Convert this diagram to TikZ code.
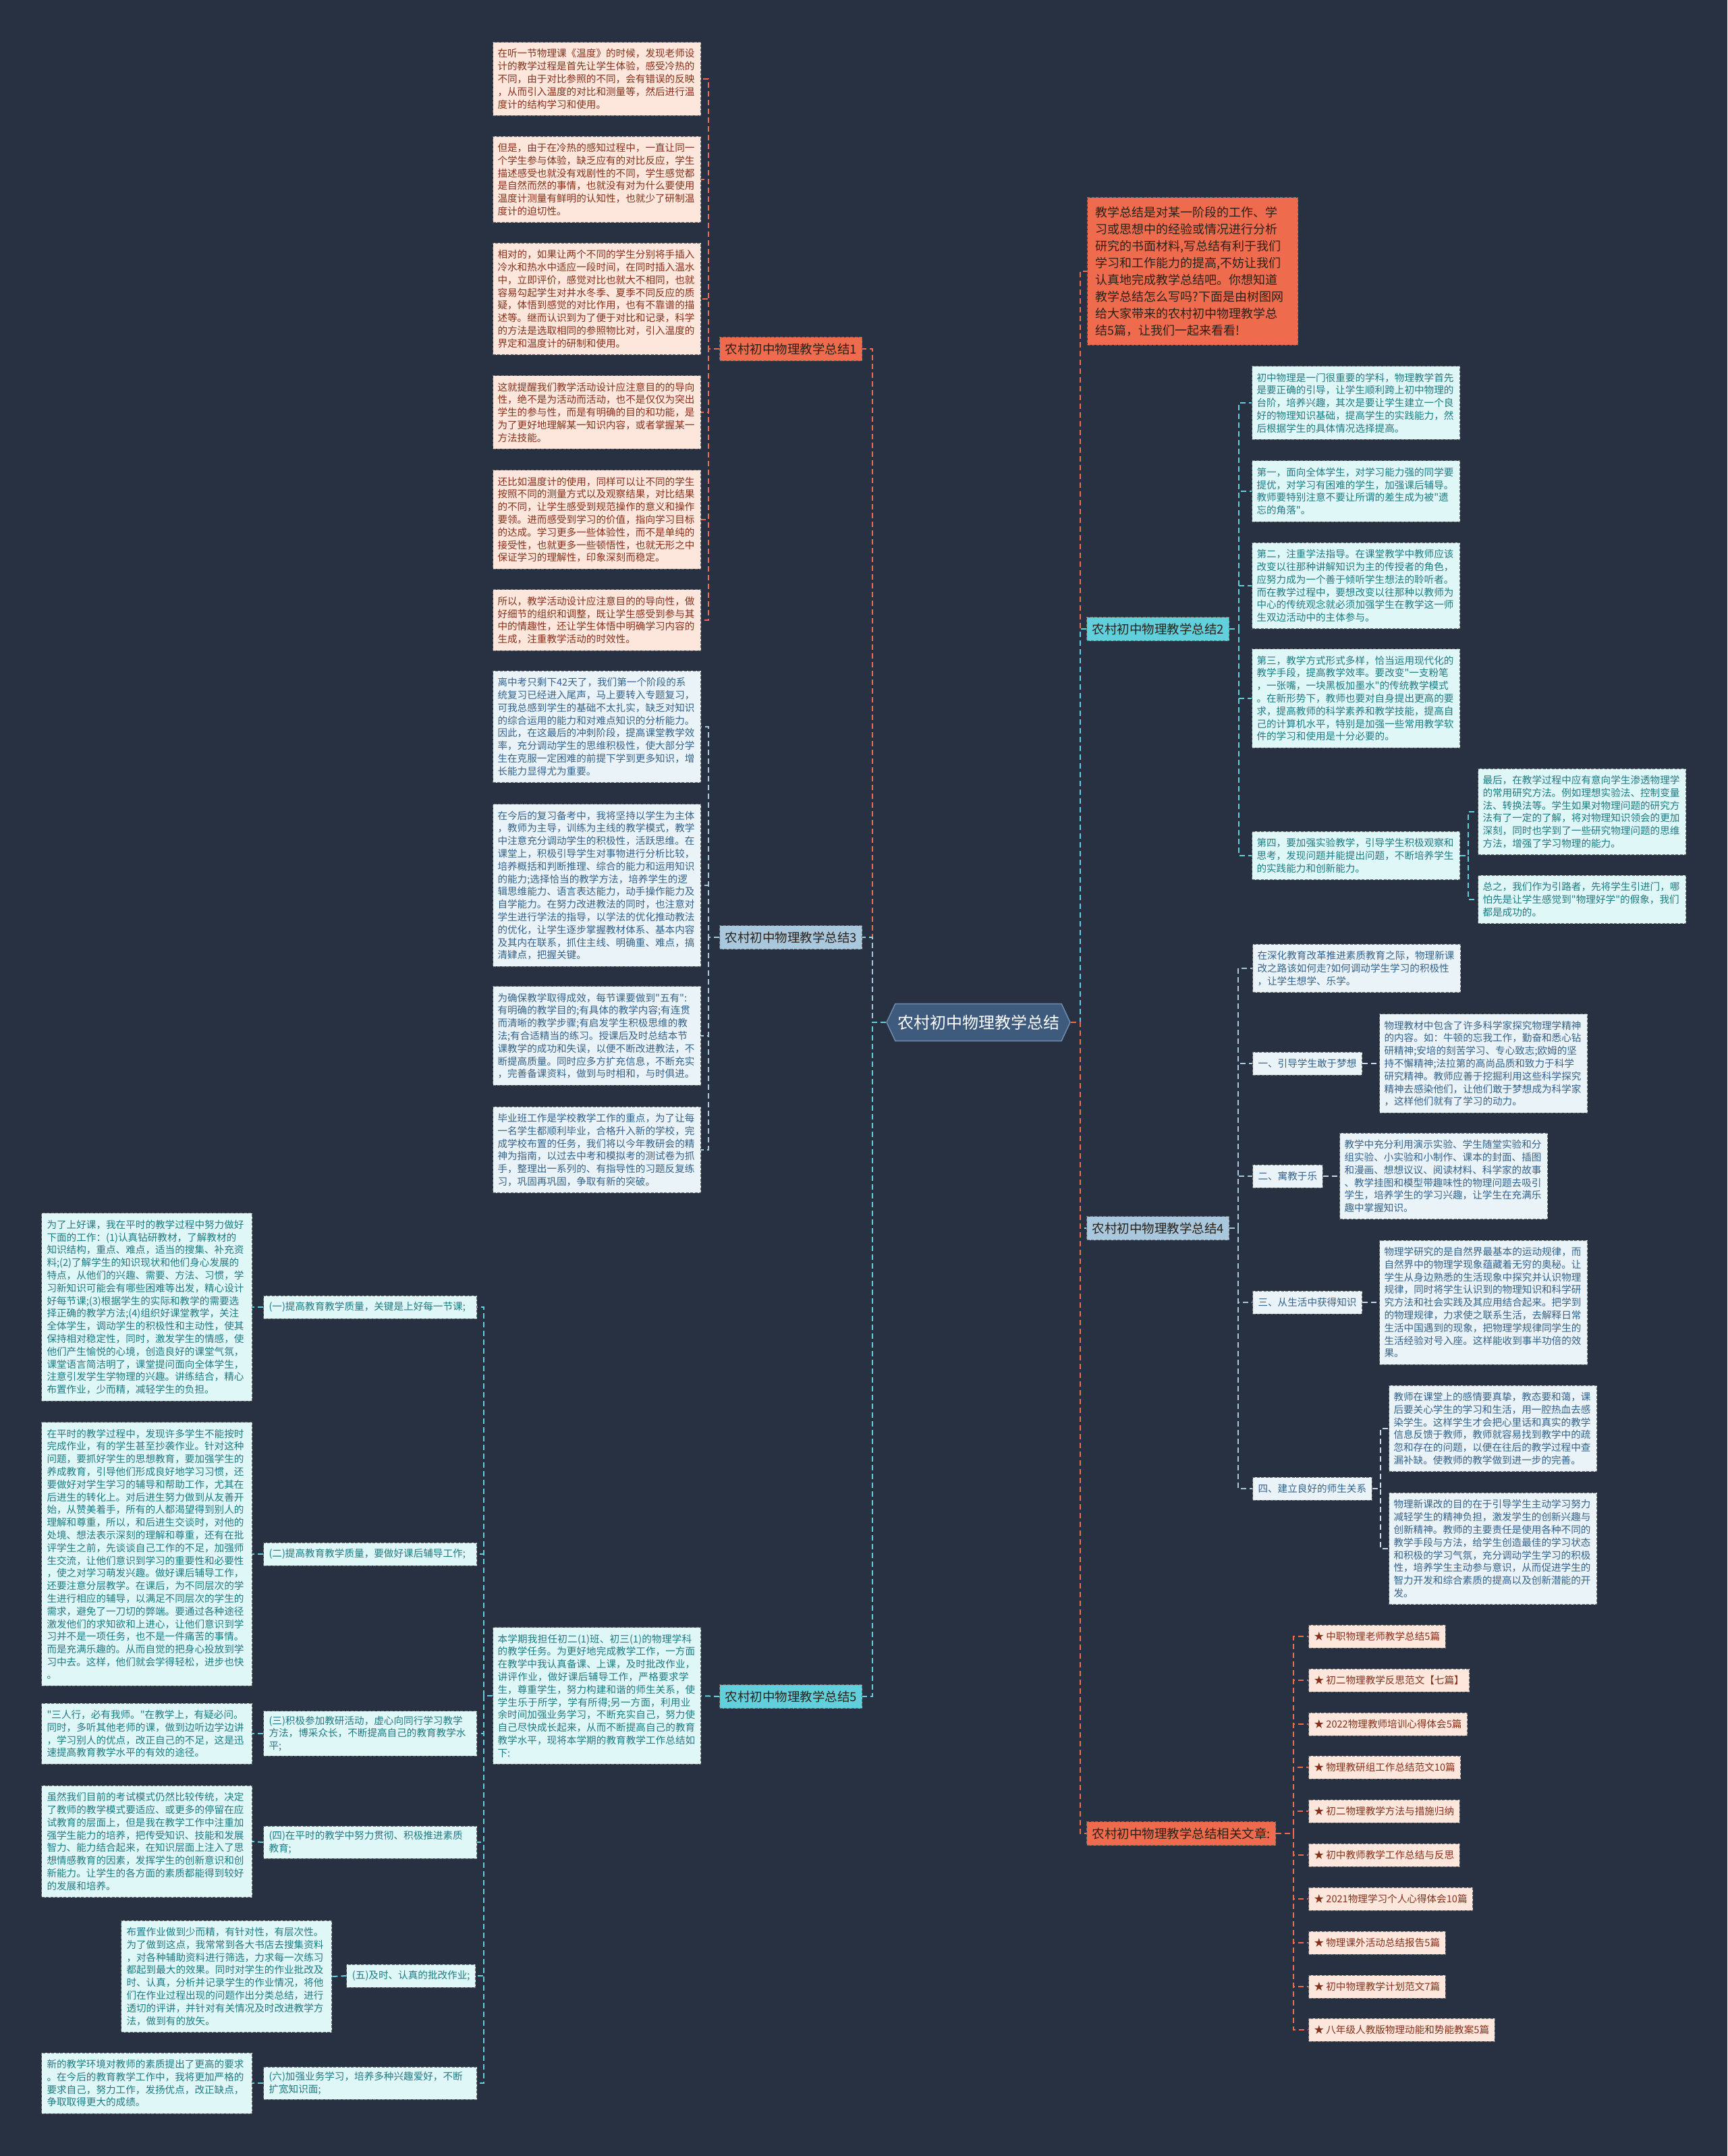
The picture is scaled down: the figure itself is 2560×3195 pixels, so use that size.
\documentclass[tikz,border=0pt]{standalone}
\usepackage{fontspec}
\setmainfont{Noto Sans CJK SC}[Ligatures=TeXOff]
\usepackage{xcolor}
\usepackage{tikz}
\usetikzlibrary{positioning, shapes.symbols}

\XeTeXlinebreaklocale "zh"
\XeTeXlinebreakskip = 0pt plus 1pt

\definecolor{bgdark}{HTML}{283142}
\definecolor{rootblue}{HTML}{3E5A7C}
\definecolor{rootedge}{HTML}{6F8DB2}
\definecolor{orangebr}{HTML}{EE6C4D}
\definecolor{pinkleaf}{HTML}{FDE6DC}
\definecolor{pinktext}{HTML}{85301A}
\definecolor{bluebr}{HTML}{A9C7DD}
\definecolor{blueleaf}{HTML}{EAF3F8}
\definecolor{bluetext}{HTML}{34628A}
\definecolor{cyanbr}{HTML}{62D0DC}
\definecolor{cyanleaf}{HTML}{E0F7F8}
\definecolor{cyantext}{HTML}{1E7A82}
\definecolor{edgegray}{HTML}{6E6E6E}
\definecolor{branchtext}{HTML}{2B2118}
\definecolor{paleline}{HTML}{C9D9E6}

\begin{document}
\begin{tikzpicture}[x=1pt, y=-1pt,
    box/.style={rectangle, draw=edgegray, dash pattern=on 4pt off 2.5pt, line width=1pt, anchor=west, align=left},
    leaf/.style={box, text width=294pt, inner xsep=7pt, inner ysep=10pt, font=\fontsize{14.6}{18.8}\selectfont},
    pinkleafbox/.style={leaf, fill=pinkleaf, text=pinktext},
    blueleafbox/.style={leaf, fill=blueleaf, text=bluetext},
    cyanleafbox/.style={leaf, fill=cyanleaf, text=cyantext},
    branch/.style={box, inner xsep=8pt, minimum height=35pt, text=branchtext, font=\fontsize{18.5}{22}\selectfont},
    subnode/.style={box, inner xsep=8pt, inner ysep=7pt, minimum height=34pt, font=\fontsize{14.6}{18.8}\selectfont},
    link/.style={line width=2pt, dash pattern=on 8pt off 5pt}]

      \fill[bgdark] (0,0) rectangle (2560,3195);
      \useasboundingbox (0,0) rectangle (2560,3195);

      % Root
      \node[signal, signal to=west and east, signal pointer angle=130, fill=rootblue, draw=rootedge, line width=1.5pt, minimum width=272pt, minimum height=55pt, inner sep=0pt, text=white, font=\fontsize{24}{28}\selectfont] (root) at (1450,1515) {农村初中物理教学总结};

      % Summary 1
      \node[branch, fill=orangebr] (s1) at (1066,517) {农村初中物理教学总结1};
      \node[pinkleafbox] (t1a) at (730,117) {在听一节物理课《温度》的时候，发现老师设\\计的教学过程是首先让学生体验，感受冷热的\\不同，由于对比参照的不同，会有错误的反映\\，从而引入温度的对比和测量等，然后进行温\\度计的结构学习和使用。};
      \node[pinkleafbox] (t1b) at (730,266) {但是，由于在冷热的感知过程中，一直让同一\\个学生参与体验，缺乏应有的对比反应，学生\\描述感受也就没有戏剧性的不同，学生感觉都\\是自然而然的事情，也就没有对为什么要使用\\温度计测量有鲜明的认知性，也就少了研制温\\度计的迫切性。};
      \node[pinkleafbox] (t1c) at (730,443) {相对的，如果让两个不同的学生分别将手插入\\冷水和热水中适应一段时间，在同时插入温水\\中，立即评价，感觉对比也就大不相同，也就\\容易勾起学生对井水冬季、夏季不同反应的质\\疑，体悟到感觉的对比作用，也有不靠谱的描\\述等。继而认识到为了便于对比和记录，科学\\的方法是选取相同的参照物比对，引入温度的\\界定和温度计的研制和使用。};
      \node[pinkleafbox] (t1d) at (730,611) {这就提醒我们教学活动设计应注意目的的导向\\性，绝不是为活动而活动，也不是仅仅为突出\\学生的参与性，而是有明确的目的和功能，是\\为了更好地理解某一知识内容，或者掌握某一\\方法技能。};
      \node[pinkleafbox] (t1e) at (730,770) {还比如温度计的使用，同样可以让不同的学生\\按照不同的测量方式以及观察结果，对比结果\\的不同，让学生感受到规范操作的意义和操作\\要领。进而感受到学习的价值，指向学习目标\\的达成。学习更多一些体验性，而不是单纯的\\接受性，也就更多一些顿悟性，也就无形之中\\保证学习的理解性，印象深刻而稳定。};
      \node[pinkleafbox] (t1f) at (730,919) {所以，教学活动设计应注意目的的导向性，做\\好细节的组织和调整，既让学生感受到参与其\\中的情趣性，还让学生体悟中明确学习内容的\\生成，注重教学活动的时效性。};

      % Summary 3
      \node[branch, fill=bluebr] (s3) at (1066,1389) {农村初中物理教学总结3};
      \node[blueleafbox] (t3a) at (730,1077) {离中考只剩下42天了，我们第一个阶段的系\\统复习已经进入尾声，马上要转入专题复习，\\可我总感到学生的基础不太扎实，缺乏对知识\\的综合运用的能力和对难点知识的分析能力。\\因此，在这最后的冲刺阶段，提高课堂教学效\\率，充分调动学生的思维积极性，使大部分学\\生在克服一定困难的前提下学到更多知识，增\\长能力显得尤为重要。};
      \node[blueleafbox] (t3b) at (730,1312) {在今后的复习备考中，我将坚持以学生为主体\\，教师为主导，训练为主线的教学模式，教学\\中注意充分调动学生的积极性，活跃思维。在\\课堂上，积极引导学生对事物进行分析比较，\\培养概括和判断推理、综合的能力和运用知识\\的能力;选择恰当的教学方法，培养学生的逻\\辑思维能力、语言表达能力，动手操作能力及\\自学能力。在努力改进教法的同时，也注意对\\学生进行学法的指导，以学法的优化推动教法\\的优化，让学生逐步掌握教材体系、基本内容\\及其内在联系，抓住主线、明确重、难点，搞\\清肄点，把握关键。};
      \node[blueleafbox] (t3c) at (730,1535) {为确保教学取得成效，每节课要做到"五有":\\有明确的教学目的;有具体的教学内容;有连贯\\而清晰的教学步骤;有启发学生积极思维的教\\法;有合适精当的练习。授课后及时总结本节\\课教学的成功和失误，以便不断改进教法，不\\断提高质量。同时应多方扩充信息，不断充实\\，完善备课资料，做到与时相和，与时俱进。};
      \node[blueleafbox] (t3d) at (730,1704) {毕业班工作是学校教学工作的重点，为了让每\\一名学生都顺利毕业，合格升入新的学校，完\\成学校布置的任务，我们将以今年教研会的精\\神为指南，以过去中考和模拟考的测试卷为抓\\手，整理出一系列的、有指导性的习题反复练\\习，巩固再巩固，争取有新的突破。};

      % Summary 5
      \node[branch, fill=cyanbr] (s5) at (1066,2514) {农村初中物理教学总结5};
      \node[cyanleafbox] (t5) at (730,2513) {本学期我担任初二(1)班、初三(1)的物理学科的教学任务。为更好地完成教学工作，一方面在教学中我认真备课、上课，及时批改作业，讲评作业，做好课后辅导工作，严格要求学生，尊重学生，努力构建和谐的师生关系，使学生乐于所学，学有所得;另一方面，利用业余时间加强业务学习，不断充实自己，努力使自己尽快成长起来，从而不断提高自己的教育教学水平，现将本学期的教育教学工作总结如下:};

      \node[subnode, anchor=east, text width=300pt, fill=cyanleaf, text=cyantext] (p1) at (707,1937) {(一)提高教育教学质量，关键是上好每一节课;};
      \node[subnode, anchor=east, text width=300pt, fill=cyanleaf, text=cyantext] (p2) at (707,2303) {(二)提高教育教学质量，要做好课后辅导工作;};
      \node[subnode, anchor=east, text width=300pt, fill=cyanleaf, text=cyantext] (p3) at (707,2569) {(三)积极参加教研活动，虚心向同行学习教学\\方法，博采众长，不断提高自己的教育教学水\\平;};
      \node[subnode, anchor=east, text width=300pt, fill=cyanleaf, text=cyantext] (p4) at (707,2730) {(四)在平时的教学中努力贯彻、积极推进素质\\教育;};
      \node[subnode, anchor=east, fill=cyanleaf, text=cyantext] (p5) at (705,2928) {(五)及时、认真的批改作业;};
      \node[subnode, anchor=east, text width=300pt, fill=cyanleaf, text=cyantext] (p6) at (707,3087) {(六)加强业务学习，培养多种兴趣爱好，不断\\扩宽知识面;};

      \node[cyanleafbox, text width=296pt, inner xsep=8pt] (q1) at (61,1937) {为了上好课，我在平时的教学过程中努力做好\\下面的工作：(1)认真钻研教材，了解教材的\\知识结构，重点、难点，适当的搜集、补充资\\料;(2)了解学生的知识现状和他们身心发展的\\特点，从他们的兴趣、需要、方法、习惯，学\\习新知识可能会有哪些困难等出发，精心设计\\好每节课;(3)根据学生的实际和教学的需要选\\择正确的教学方法;(4)组织好课堂教学，关注\\全体学生，调动学生的积极性和主动性，使其\\保持相对稳定性，同时，激发学生的情感，使\\他们产生愉悦的心境，创造良好的课堂气氛，\\课堂语言简洁明了，课堂提问面向全体学生，\\注意引发学生学物理的兴趣。讲练结合，精心\\布置作业，少而精，减轻学生的负担。};
      \node[cyanleafbox, text width=296pt, inner xsep=8pt] (q2) at (61,2303) {在平时的教学过程中，发现许多学生不能按时\\完成作业，有的学生甚至抄袭作业。针对这种\\问题，要抓好学生的思想教育，要加强学生的\\养成教育，引导他们形成良好地学习习惯，还\\要做好对学生学习的辅导和帮助工作，尤其在\\后进生的转化上。对后进生努力做到从友善开\\始，从赞美着手，所有的人都渴望得到别人的\\理解和尊重，所以，和后进生交谈时，对他的\\处境、想法表示深刻的理解和尊重，还有在批\\评学生之前，先谈谈自己工作的不足，加强师\\生交流，让他们意识到学习的重要性和必要性\\，使之对学习萌发兴趣。做好课后辅导工作，\\还要注意分层教学。在课后，为不同层次的学\\生进行相应的辅导，以满足不同层次的学生的\\需求，避免了一刀切的弊端。要通过各种途径\\激发他们的求知欲和上进心，让他们意识到学\\习并不是一项任务，也不是一件痛苦的事情。\\而是充满乐趣的。从而自觉的把身心投放到学\\习中去。这样，他们就会学得轻松，进步也快\\。};
      \node[cyanleafbox, text width=296pt, inner xsep=8pt] (q3) at (61,2569) {"三人行，必有我师。"在教学上，有疑必问。\\同时，多听其他老师的课，做到边听边学边讲\\，学习别人的优点，改正自己的不足，这是迅\\速提高教育教学水平的有效的途径。};
      \node[cyanleafbox, text width=296pt, inner xsep=8pt] (q4) at (61,2729) {虽然我们目前的考试模式仍然比较传统，决定\\了教师的教学模式要适应、或更多的停留在应\\试教育的层面上，但是我在教学工作中注重加\\强学生能力的培养，把传受知识、技能和发展\\智力、能力结合起来，在知识层面上注入了思\\想情感教育的因素，发挥学生的创新意识和创\\新能力。让学生的各方面的素质都能得到较好\\的发展和培养。};
      \node[cyanleafbox, text width=296pt, inner xsep=8pt] (q5) at (179,2929) {布置作业做到少而精，有针对性，有层次性。\\为了做到这点，我常常到各大书店去搜集资料\\，对各种辅助资料进行筛选，力求每一次练习\\都起到最大的效果。同时对学生的作业批改及\\时、认真，分析并记录学生的作业情况，将他\\们在作业过程出现的问题作出分类总结，进行\\透切的评讲，并针对有关情况及时改进教学方\\法，做到有的放矢。};
      \node[cyanleafbox, text width=296pt, inner xsep=8pt] (q6) at (61,3087) {新的教学环境对教师的素质提出了更高的要求\\。在今后的教育教学工作中，我将更加严格的\\要求自己，努力工作，发扬优点，改正缺点，\\争取取得更大的成绩。};

      % Intro
      \node[box, fill=orangebr, text=branchtext, text width=288pt, inner xsep=12pt, inner ysep=13pt, font=\fontsize{18}{25}\selectfont] (intro) at (1611,402) {教学总结是对某一阶段的工作、学\\习或思想中的经验或情况进行分析\\研究的书面材料,写总结有利于我们\\学习和工作能力的提高,不妨让我们\\认真地完成教学总结吧。你想知道\\教学总结怎么写吗?下面是由树图网\\给大家带来的农村初中物理教学总\\结5篇，让我们一起来看看!};

      % Summary 2
      \node[branch, fill=cyanbr] (s2) at (1610,932) {农村初中物理教学总结2};
      \node[cyanleafbox] (u2a) at (1855,597) {初中物理是一门很重要的学科，物理教学首先\\是要正确的引导，让学生顺利跨上初中物理的\\台阶，培养兴趣，其次是要让学生建立一个良\\好的物理知识基础，提高学生的实践能力，然\\后根据学生的具体情况选择提高。};
      \node[cyanleafbox] (u2b) at (1855,728) {第一，面向全体学生，对学习能力强的同学要\\提优，对学习有困难的学生，加强课后辅导。\\教师要特别注意不要让所谓的差生成为被"遗\\忘的角落"。};
      \node[cyanleafbox] (u2c) at (1855,868) {第二，注重学法指导。在课堂教学中教师应该\\改变以往那种讲解知识为主的传授者的角色，\\应努力成为一个善于倾听学生想法的聆听者。\\而在教学过程中，要想改变以往那种以教师为\\中心的传统观念就必须加强学生在教学这一师\\生双边活动中的主体参与。};
      \node[cyanleafbox] (u2d) at (1855,1035) {第三，教学方式形式多样，恰当运用现代化的\\教学手段，提高教学效率。要改变"一支粉笔\\，一张嘴，一块黑板加墨水"的传统教学模式\\。在新形势下，教师也要对自身提出更高的要\\求，提高教师的科学素养和教学技能，提高自\\己的计算机水平，特别是加强一些常用教学软\\件的学习和使用是十分必要的。};
      \node[cyanleafbox] (u2e) at (1855,1268) {第四，要加强实验教学，引导学生积极观察和\\思考，发现问题并能提出问题，不断培养学生\\的实践能力和创新能力。};
      \node[cyanleafbox] (u2f) at (2190,1203) {最后，在教学过程中应有意向学生渗透物理学\\的常用研究方法。例如理想实验法、控制变量\\法、转换法等。学生如果对物理问题的研究方\\法有了一定的了解，将对物理知识领会的更加\\深刻，同时也学到了一些研究物理问题的思维\\方法，增强了学习物理的能力。};
      \node[cyanleafbox] (u2g) at (2190,1333) {总之，我们作为引路者，先将学生引进门，哪\\怕先是让学生感觉到"物理好学"的假象，我们\\都是成功的。};

      % Summary 4
      \node[branch, fill=bluebr] (s4) at (1610,1820) {农村初中物理教学总结4};
      \node[blueleafbox] (v4a) at (1856,1435) {在深化教育改革推进素质教育之际，物理新课\\改之路该如何走?如何调动学生学习的积极性\\，让学生想学、乐学。};
      \node[subnode, fill=blueleaf, text=bluetext] (v4b) at (1856,1576) {一、引导学生敢于梦想};
      \node[subnode, fill=blueleaf, text=bluetext] (v4c) at (1856,1743) {二、寓教于乐};
      \node[subnode, fill=blueleaf, text=bluetext] (v4d) at (1856,1930) {三、从生活中获得知识};
      \node[subnode, fill=blueleaf, text=bluetext] (v4e) at (1856,2206) {四、建立良好的师生关系};
      \node[blueleafbox] (w4b) at (2044,1576) {物理教材中包含了许多科学家探究物理学精神\\的内容。如：牛顿的忘我工作，勤奋和悉心钻\\研精神;安培的刻苦学习、专心致志;欧姆的坚\\持不懈精神;法拉第的高尚品质和致力于科学\\研究精神。教师应善于挖掘利用这些科学探究\\精神去感染他们，让他们敢于梦想成为科学家\\，这样他们就有了学习的动力。};
      \node[blueleafbox] (w4c) at (1985,1743) {教学中充分利用演示实验、学生随堂实验和分\\组实验、小实验和小制作、课本的封面、插图\\和漫画、想想议议、阅读材料、科学家的故事\\、教学挂图和模型带趣味性的物理问题去吸引\\学生，培养学生的学习兴趣，让学生在充满乐\\趣中掌握知识。};
      \node[blueleafbox] (w4d) at (2044,1930) {物理学研究的是自然界最基本的运动规律，而\\自然界中的物理学现象蕴藏着无穷的奥秘。让\\学生从身边熟悉的生活现象中探究并认识物理\\规律，同时将学生认识到的物理知识和科学研\\究方法和社会实践及其应用结合起来。把学到\\的物理规律，力求使之联系生活，去解释日常\\生活中国遇到的现象，把物理学规律同学生的\\生活经验对号入座。这样能收到事半功倍的效\\果。};
      \node[blueleafbox] (w4e) at (2058,2117) {教师在课堂上的感情要真挚，教态要和蔼，课\\后要关心学生的学习和生活，用一腔热血去感\\染学生。这样学生才会把心里话和真实的教学\\信息反馈于教师，教师就容易找到教学中的疏\\忽和存在的问题，以便在往后的教学过程中查\\漏补缺。使教师的教学做到进一步的完善。};
      \node[blueleafbox] (w4f) at (2058,2295) {物理新课改的目的在于引导学生主动学习努力\\减轻学生的精神负担，激发学生的创新兴趣与\\创新精神。教师的主要责任是使用各种不同的\\教学手段与方法，给学生创造最佳的学习状态\\和积极的学习气氛，充分调动学生学习的积极\\性，培养学生主动参与意识，从而促进学生的\\智力开发和综合素质的提高以及创新潜能的开\\发。};

      % Related articles
      \node[branch, fill=orangebr] (rel) at (1610,2717) {农村初中物理教学总结相关文章:};
      \node[subnode, fill=pinkleaf, text=pinktext] (r1) at (1939,2425) {★ 中职物理老师教学总结5篇};
      \node[subnode, fill=pinkleaf, text=pinktext] (r2) at (1939,2490) {★ 初二物理教学反思范文【七篇】};
      \node[subnode, fill=pinkleaf, text=pinktext] (r3) at (1939,2555) {★ 2022物理教师培训心得体会5篇};
      \node[subnode, fill=pinkleaf, text=pinktext] (r4) at (1939,2619) {★ 物理教研组工作总结范文10篇};
      \node[subnode, fill=pinkleaf, text=pinktext] (r5) at (1939,2684) {★ 初二物理教学方法与措施归纳};
      \node[subnode, fill=pinkleaf, text=pinktext] (r6) at (1939,2749) {★ 初中教师教学工作总结与反思};
      \node[subnode, fill=pinkleaf, text=pinktext] (r7) at (1939,2814) {★ 2021物理学习个人心得体会10篇};
      \node[subnode, fill=pinkleaf, text=pinktext] (r8) at (1939,2879) {★ 物理课外活动总结报告5篇};
      \node[subnode, fill=pinkleaf, text=pinktext] (r9) at (1939,2944) {★ 初中物理教学计划范文7篇};
      \node[subnode, fill=pinkleaf, text=pinktext] (r10) at (1939,3008) {★ 八年级人教版物理动能和势能教案5篇};

      % Root links
      \draw[link, orangebr] (root.west) -- ++(-20,0) |- (s1.east);
      \draw[link, bluebr] (root.west) -- ++(-20,0) |- (s3.east);
      \draw[link, cyanbr] (root.west) -- ++(-20,0) |- (s5.east);
      \draw[link, orangebr] (root.east) -- ++(14,0) |- (intro.west);
      \draw[link, cyanbr] (root.east) -- ++(14,0) |- (s2.west);
      \draw[link, bluebr] (root.east) -- ++(14,0) |- (s4.west);
      \draw[link, orangebr] (root.east) -- ++(14,0) |- (rel.west);

      % Left links
      \draw[link, orangebr] (s1.west) -- ++(-16,0) |- (t1a.east);
      \draw[link, orangebr] (s1.west) -- ++(-16,0) |- (t1b.east);
      \draw[link, orangebr] (s1.west) -- ++(-16,0) |- (t1c.east);
      \draw[link, orangebr] (s1.west) -- ++(-16,0) |- (t1d.east);
      \draw[link, orangebr] (s1.west) -- ++(-16,0) |- (t1e.east);
      \draw[link, orangebr] (s1.west) -- ++(-16,0) |- (t1f.east);
      \draw[link, bluebr] (s3.west) -- ++(-16,0) |- (t3a.east);
      \draw[link, bluebr] (s3.west) -- ++(-16,0) |- (t3b.east);
      \draw[link, bluebr] (s3.west) -- ++(-16,0) |- (t3c.east);
      \draw[link, bluebr] (s3.west) -- ++(-16,0) |- (t3d.east);
      \draw[link, cyanbr] (s5.west) -- (t5.east);
      \draw[link, cyanbr] (t5.west) -- ++(-13,0) |- (p1.east);
      \draw[link, cyanbr] (t5.west) -- ++(-13,0) |- (p2.east);
      \draw[link, cyanbr] (t5.west) -- ++(-13,0) |- (p3.east);
      \draw[link, cyanbr] (t5.west) -- ++(-13,0) |- (p4.east);
      \draw[link, cyanbr] (t5.west) -- ++(-13,0) |- (p5.east);
      \draw[link, cyanbr] (t5.west) -- ++(-13,0) |- (p6.east);
      \draw[link, cyanbr] (p1.west) -- (q1.east);
      \draw[link, cyanbr] (p2.west) -- (q2.east);
      \draw[link, cyanbr] (p3.west) -- (q3.east);
      \draw[link, cyanbr] (p4.west) -- (q4.east);
      \draw[link, cyanbr] (p5.west) -- (q5.east);
      \draw[link, cyanbr] (p6.west) -- (q6.east);

      % Right links
      \draw[link, cyanbr] (s2.east) -- ++(14,0) |- (u2a.west);
      \draw[link, cyanbr] (s2.east) -- ++(14,0) |- (u2b.west);
      \draw[link, cyanbr] (s2.east) -- ++(14,0) |- (u2c.west);
      \draw[link, cyanbr] (s2.east) -- ++(14,0) |- (u2d.west);
      \draw[link, cyanbr] (s2.east) -- ++(14,0) |- (u2e.west);
      \draw[link, cyanbr] (u2e.east) -- ++(12,0) |- (u2f.west);
      \draw[link, cyanbr] (u2e.east) -- ++(12,0) |- (u2g.west);
      \draw[link, bluebr] (s4.east) -- ++(13,0) |- (v4a.west);
      \draw[link, bluebr] (s4.east) -- ++(13,0) |- (v4b.west);
      \draw[link, bluebr] (s4.east) -- ++(13,0) |- (v4c.west);
      \draw[link, bluebr] (s4.east) -- ++(13,0) |- (v4d.west);
      \draw[link, bluebr] (s4.east) -- ++(13,0) |- (v4e.west);
      \draw[link, paleline] (v4b.east) -- (w4b.west);
      \draw[link, paleline] (v4c.east) -- (w4c.west);
      \draw[link, paleline] (v4d.east) -- (w4d.west);
      \draw[link, paleline] (v4e.east) -- ++(12,0) |- (w4e.west);
      \draw[link, paleline] (v4e.east) -- ++(12,0) |- (w4f.west);
      \draw[link, orangebr] (rel.east) -- ++(26,0) |- (r1.west);
      \draw[link, orangebr] (rel.east) -- ++(26,0) |- (r2.west);
      \draw[link, orangebr] (rel.east) -- ++(26,0) |- (r3.west);
      \draw[link, orangebr] (rel.east) -- ++(26,0) |- (r4.west);
      \draw[link, orangebr] (rel.east) -- ++(26,0) |- (r5.west);
      \draw[link, orangebr] (rel.east) -- ++(26,0) |- (r6.west);
      \draw[link, orangebr] (rel.east) -- ++(26,0) |- (r7.west);
      \draw[link, orangebr] (rel.east) -- ++(26,0) |- (r8.west);
      \draw[link, orangebr] (rel.east) -- ++(26,0) |- (r9.west);
      \draw[link, orangebr] (rel.east) -- ++(26,0) |- (r10.west);
\end{tikzpicture}
\end{document}
